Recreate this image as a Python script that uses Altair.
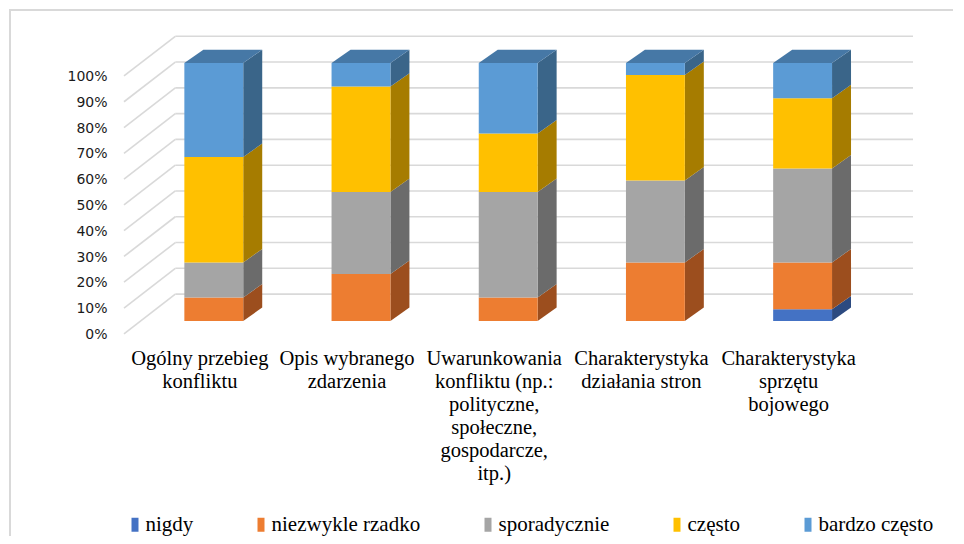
import altair as alt
import pandas as pd

# ---------------- data ----------------
categories = [
    "Ogólny przebieg\nkonfliktu",
    "Opis wybranego\nzdarzenia",
    "Uwarunkowania\nkonfliktu (np.:\npolityczne,\nspołeczne,\ngospodarcze,\nitp.)",
    "Charakterystyka\ndziałania stron",
    "Charakterystyka\nsprzętu\nbojowego",
]
series = ["nigdy", "niezwykle rzadko", "sporadycznie", "często", "bardzo często"]

nigdy = [0.0, 0.0, 0.0, 0.0, 4.5]
niezwykle_rzadko = [9.1, 18.2, 9.1, 22.7, 18.2]
sporadycznie = [13.6, 31.8, 40.9, 31.8, 36.4]
czesto = [40.9, 40.9, 22.7, 40.9, 27.3]
bardzo_czesto = [36.4, 9.1, 27.3, 4.6, 13.6]

y_ticks = [0, 10, 20, 30, 40, 50, 60, 70, 80, 90, 100]

front_colors = ["#4472C4", "#ED7D31", "#A5A5A5", "#FFC000", "#5B9BD5"]
side_colors = ["#2C4A80", "#9C4E1E", "#6B6B6B", "#A67C00", "#3A6589"]
top_color = "#4678A6"

SERIF = "Liberation Serif, Times New Roman, DejaVu Serif, serif"

# ---------------- geometry (data units) ----------------
X_MIN, X_MAX = -0.61, 4.75
Y_MIN, Y_MAX = -4.3, 110.5
BAR_HALF = 0.2
DEPTH_X, DEPTH_Y = 0.129, 5.2
BACK_X, BACK_Y = -0.2615, 10.4
FRONT_Y = -5.0

values = [nigdy, niezwykle_rzadko, sporadycznie, czesto, bardzo_czesto]

front_rows, side_rows, top_rows, label_rows = [], [], [], []
for i, cat in enumerate(categories):
    label_rows.append({"i": i, "label": cat})
    cum = 0.0
    for s, name in enumerate(series):
        v = values[s][i]
        lo, hi = cum, cum + v
        cum = hi
        if v <= 0:
            continue
        front_rows.append({"x": i - BAR_HALF, "x2": i + BAR_HALF, "lo": lo, "hi": hi, "series": name})
        key = f"{i}-{s}"
        side_rows.append({"key": key, "x": i + BAR_HALF, "lo": lo, "hi": hi, "c": side_colors[s]})
        side_rows.append({"key": key, "x": i + BAR_HALF + DEPTH_X, "lo": lo + DEPTH_Y,
                          "hi": hi + DEPTH_Y, "c": side_colors[s]})
    top = cum
    k = f"top{i}"
    top_rows += [
        {"key": k, "x": i - BAR_HALF, "lo": top, "hi": top, "c": top_color},
        {"key": k, "x": i - BAR_HALF + DEPTH_X, "lo": top, "hi": top + DEPTH_Y, "c": top_color},
        {"key": k, "x": i + BAR_HALF, "lo": top, "hi": top + DEPTH_Y, "c": top_color},
        {"key": k, "x": i + BAR_HALF + DEPTH_X, "lo": top + DEPTH_Y, "hi": top + DEPTH_Y, "c": top_color},
    ]

front_df = pd.DataFrame(front_rows)
side_df = pd.DataFrame(side_rows)
top_df = pd.DataFrame(top_rows)
label_df = pd.DataFrame(label_rows)
grid_df = pd.DataFrame({
    "t": y_ticks,
    "xf": [X_MIN] * len(y_ticks),
    "xb": [BACK_X] * len(y_ticks),
    "xe": [X_MAX] * len(y_ticks),
    "yf": [t + FRONT_Y for t in y_ticks],
    "yb": [t + BACK_Y for t in y_ticks],
})

xs = alt.Scale(domain=[X_MIN, X_MAX], nice=False, zero=False)
ys = alt.Scale(domain=[Y_MIN, Y_MAX], nice=False, zero=False)
GRID = "#d9d9d9"

y_axis = alt.Axis(
    values=y_ticks, labelExpr="datum.value + '%'", title=None, domain=False,
    ticks=False, grid=False, labelPadding=17, labelOffset=13.5,
    labelFont="DejaVu Sans", labelFontSize=14, labelColor="#1a1a1a")

border = alt.Chart(pd.DataFrame({"a": [0]})).mark_rect(
    fill="transparent", stroke=GRID, strokeWidth=2
).encode(x=alt.value(-114), y=alt.value(-26), x2=alt.value(1200), y2=alt.value(900))

back_grid = alt.Chart(grid_df).mark_rule(color=GRID, strokeWidth=1.6).encode(
    x=alt.X("xb:Q", scale=xs, axis=None), x2="xe:Q",
    y=alt.Y("yb:Q", scale=ys, axis=y_axis), y2="yb:Q",
)
diag_grid = alt.Chart(grid_df).mark_rule(color=GRID, strokeWidth=1.6).encode(
    x=alt.X("xf:Q", scale=xs, axis=None), x2="xb:Q",
    y=alt.Y("yf:Q", scale=ys, axis=y_axis), y2="yb:Q",
)

front = alt.Chart(front_df).mark_rect().encode(
    x=alt.X("x:Q", scale=xs, axis=None), x2="x2:Q",
    y=alt.Y("lo:Q", scale=ys, stack=None, axis=y_axis),
    y2="hi:Q",
    color=alt.Color("series:N", scale=alt.Scale(domain=series, range=front_colors),
                    sort=series,
                    legend=alt.Legend(
                        title=None, orient="none", direction="horizontal", columns=5,
                        legendX=0.5, legendY=478, padding=0, columnPadding=57,
                        symbolType="M-0.5,-1H0.5V1H-0.5Z", symbolSize=196,
                        symbolStrokeWidth=0, symbolOffset=0, labelOffset=0,
                        labelFont=SERIF, labelFontSize=21,
                        labelColor="#000000", labelLimit=300)),
)

side = alt.Chart(side_df).mark_area(orient="vertical", interpolate="linear").encode(
    x=alt.X("x:Q", scale=xs, axis=None),
    y=alt.Y("lo:Q", scale=ys, stack=None, axis=y_axis), y2="hi:Q",
    detail="key:N",
    color=alt.Color("c:N", scale=None),
)
topf = alt.Chart(top_df).mark_area(orient="vertical", interpolate="linear").encode(
    x=alt.X("x:Q", scale=xs, axis=None),
    y=alt.Y("lo:Q", scale=ys, stack=None, axis=y_axis), y2="hi:Q",
    detail="key:N",
    color=alt.Color("c:N", scale=None),
)

labels = alt.Chart(label_df).mark_text(
    font=SERIF, fontSize=20.5, lineHeight=23, align="center",
    baseline="alphabetic", lineBreak="\n", dx=-14, color="#000000"
).encode(
    x=alt.X("i:Q", scale=xs, axis=None), y=alt.value(329), text="label:N"
)

chart = alt.layer(border, back_grid, diag_grid, side, topf, front, labels).properties(
    width=789, height=296,
    autosize=alt.AutoSizeParams(type="none"),
    padding={"left": 116, "top": 28, "right": 40, "bottom": 204},
    background="white",
).configure_view(stroke=None)

chart.save("out.html", embed_options={"renderer": "svg", "actions": False})
